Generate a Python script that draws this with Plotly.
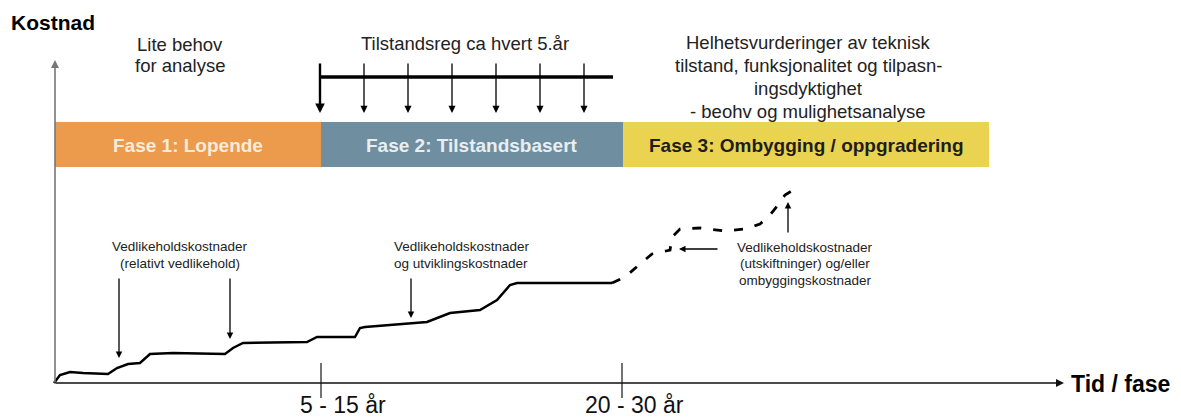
import plotly.graph_objects as go

# ---------------- data (diagram coordinates: x = time axis, y = screen-like, downward) ----------------
# Solid cost curve (phase 1 and 2)
curve_x = [54, 60, 70, 83, 108, 117, 128, 140, 150, 173, 225, 233, 243, 307, 317, 330, 355, 360, 365,
           427, 440, 450, 480, 497, 510, 517, 612]
curve_y = [383, 375, 372, 373, 374, 368, 364, 363, 354, 353, 354, 348, 343, 342, 337, 337, 337, 328, 327,
           322, 317, 313, 310, 300, 285, 283, 283]
# Dashed cost curve (phase 3)
upgrade_x = [612, 625, 640, 652, 666, 670, 672, 680, 700, 725, 745, 760, 770, 778, 785, 795]
upgrade_y = [283, 277, 264, 254, 251, 250, 237, 229, 228, 231, 229, 224, 215, 205, 195, 189]

phase_names = ["Fase 1: Lopende", "Fase 2: Tilstandsbasert", "Fase 3: Ombygging / oppgradering"]
phase_start = [55, 321, 623]
phase_end = [321, 623, 989]
phase_colors = ["#EC9A4C", "#6F8EA0", "#E9D350"]
phase_text_colors = ["#F8ECDD", "#E9EEF1", "#1E1E1E"]

inspection_x = [320, 364, 408, 452, 496, 540, 584]

tick_x = [321, 622]
tick_labels = ["5 - 15 år", "20 - 30 år"]

FONT = "Liberation Sans, Arial, sans-serif"

fig = go.Figure()


def text_lines(lines, x, y0, spacing, size, color="#222222", xanchor="center", bold=False):
    for k, line in enumerate(lines):
        t = f"<b>{line}</b>" if bold else line
        fig.add_annotation(x=x, y=y0 + k * spacing, text=t, showarrow=False, xanchor=xanchor,
                           font=dict(family=FONT, size=size, color=color))


# Phase bars
for name, x0, x1, col, tcol in zip(phase_names, phase_start, phase_end, phase_colors, phase_text_colors):
    fig.add_shape(type="rect", x0=x0, x1=x1, y0=122, y1=167, fillcolor=col, line_width=0, layer="below")
    fig.add_annotation(x=(x0 + x1) / 2, y=145, text=f"<b>{name}</b>", showarrow=False,
                       font=dict(family=FONT, size=19, color=tcol))

# Axes (arrows)
fig.add_annotation(x=55, y=60, ax=55, ay=384, xref="x", yref="y", axref="x", ayref="y", text="",
                   showarrow=True, arrowhead=2, arrowsize=1, arrowwidth=1.6, arrowcolor="#777777")
fig.add_annotation(x=1064, y=383, ax=54, ay=383, xref="x", yref="y", axref="x", ayref="y", text="",
                   showarrow=True, arrowhead=2, arrowsize=1, arrowwidth=1.6, arrowcolor="#111111")

# Ticks and labels
label_shift = [-23, -39]
for tx, tl, sh in zip(tick_x, tick_labels, label_shift):
    fig.add_shape(type="line", x0=tx, x1=tx, y0=363, y1=398, line=dict(color="#444444", width=1.5))
    fig.add_annotation(x=tx + sh, y=405, text=tl, showarrow=False, xanchor="left",
                       font=dict(family=FONT, size=23, color="#111111"))

# Cost curves
fig.add_trace(go.Scatter(x=curve_x, y=curve_y, mode="lines", line=dict(color="#000000", width=2.5),
                         hoverinfo="skip", showlegend=False))
fig.add_trace(go.Scatter(x=upgrade_x, y=upgrade_y, mode="lines",
                         line=dict(color="#000000", width=2.8, dash="9px,12px"),
                         hoverinfo="skip", showlegend=False))

# Inspection timeline
fig.add_shape(type="line", x0=320, x1=613, y0=77, y1=77, line=dict(color="#000000", width=3.5))
for i, ix in enumerate(inspection_x):
    fig.add_annotation(x=ix, y=113, ax=ix, ay=62, xref="x", yref="y", axref="x", ayref="y", text="",
                       showarrow=True, arrowhead=2, arrowsize=0.8 if i == 0 else 1.1,
                       arrowwidth=2.4 if i == 0 else 1.3, arrowcolor="#000000")

# Axis titles
fig.add_annotation(x=9, y=22, xanchor="left", text="<b>Kostnad</b>", showarrow=False,
                   font=dict(family=FONT, size=21, color="#000000"))
fig.add_annotation(x=1069, y=384, xanchor="left", text="<b>Tid / fase</b>", showarrow=False,
                   font=dict(family=FONT, size=23, color="#000000"))

# Texts above
text_lines(["Lite behov", "for analyse"], 180, 44, 21, 18.5)
text_lines(["Tilstandsreg ca hvert 5.år"], 465, 43, 0, 18.5)
text_lines(["Helhetsvurderinger av teknisk", "tilstand, funksjonalitet og tilpasn-",
            "ingsdyktighet", "- beohv og mulighetsanalyse"], 808, 42, 23.3, 18.5)

# Small annotations
text_lines(["Vedlikeholdskostnader", "(relativt vedlikehold)"], 180, 246, 17, 13.5)
text_lines(["Vedlikeholdskostnader", "og utviklingskostnader"], 392, 246, 17, 13.5, xanchor="left")
text_lines(["Vedlikeholdskostnader", "(utskiftninger) og/eller", "ombyggingskostnader"], 805, 247, 16.5, 13.5)

# annotation arrows: (head_x, head_y, tail_x, tail_y)
arrow_head_x = [119, 230, 411, 679, 788]
arrow_head_y = [358, 339, 318, 249, 202]
arrow_tail_x = [119, 230, 411, 719, 788]
arrow_tail_y = [277, 277, 277, 249, 234]
for hx, hy, tx_, ty_ in zip(arrow_head_x, arrow_head_y, arrow_tail_x, arrow_tail_y):
    fig.add_annotation(x=hx, y=hy, ax=tx_, ay=ty_, xref="x", yref="y", axref="x", ayref="y", text="",
                       showarrow=True, arrowhead=2, arrowsize=1, arrowwidth=1.3, arrowcolor="#000000")

fig.update_layout(
    width=1181, height=420,
    margin=dict(l=0, r=0, t=0, b=0),
    paper_bgcolor="#ffffff", plot_bgcolor="#ffffff",
    xaxis=dict(range=[0, 1181], visible=False, fixedrange=True),
    yaxis=dict(range=[420, 0], visible=False, fixedrange=True),
    showlegend=False,
)

fig.write_html("out.html", config={"displayModeBar": False},
               post_script="document.body.style.margin='0';document.body.style.padding='0';document.body.style.overflow='hidden';")
